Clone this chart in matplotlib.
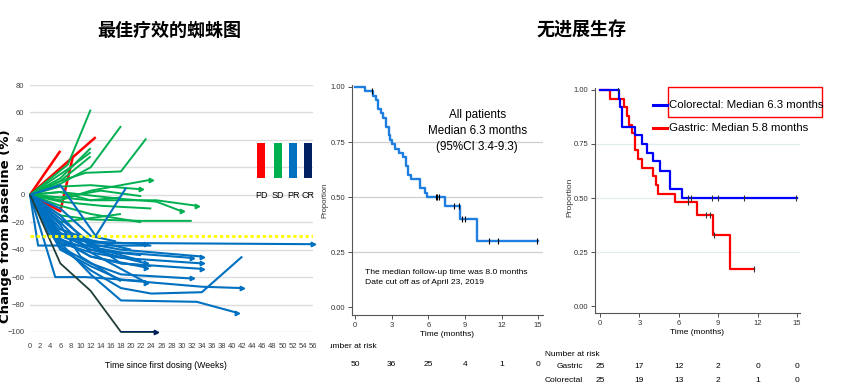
import numpy as np
import matplotlib.pyplot as plt
from matplotlib.patches import Rectangle
from matplotlib.lines import Line2D
from matplotlib import transforms

plt.rcParams['font.family'] = ['Liberation Sans Narrow', 'Liberation Sans', 'DejaVu Sans']
cjk = ['Noto Sans CJK SC', 'DejaVu Sans']

# ---- spider plot data (weeks, % change from baseline) ----
pd_weeks = [[0, 6], [0, 13], [0, 6], [0, 6, 8.5]]
pd_vals = [[0, 32], [0, 42], [0, 7], [0, -12, 28]]
pd_arrow = [False, False, False, False]

sd_weeks = [[0, 7.5, 12], [0, 6, 12, 18], [0, 6, 11, 18, 23], [0, 6, 12], [0, 6, 12],
            [0, 8, 12], [0, 6, 12, 24], [0, 6, 12, 22], [0, 6, 14, 22],
            [0, 6, 12, 25, 33], [0, 6, 18, 25, 30], [0, 6, 12, 22, 32],
            [0, 6, 14, 24], [0, 6, 12, 18], [0, 6, 12, 22], [0, 6, 12, 18]]
sd_vals = [[0, 22, 62], [0, 8, 20, 50], [0, 10, 16, 17, 41], [0, 12, 34], [0, 10, 28],
           [0, 20, 31], [0, -4, 3, 11], [0, 6, 7, 4], [0, -2, 3, -1],
           [0, -2, -4, -4, -8], [0, 2, -3, -5, -12], [0, -15, -18, -19, -19],
           [0, -5, -8, -10], [0, -20, -17, -14], [0, -8, -14, -20], [0, 2, -4, -2]]
sd_arrow = [False, False, False, False, False, False, True, True, False,
            True, True, False, False, False, False, False]

pr_weeks = [[0, 6, 12, 56], [0, 6, 12, 23], [0, 1.6, 24], [0, 5, 11, 23],
            [0, 6, 12, 18, 34], [0, 6, 12, 18, 32], [0, 6, 12, 18, 34],
            [0, 6, 12, 18, 34], [0, 6, 12, 23], [0, 6, 12, 23],
            [0, 6, 12, 18, 32], [0, 6, 12, 18, 34, 42], [0, 6, 12, 18, 24, 34, 42],
            [0, 6, 12, 18, 33, 41], [0, 6, 13, 19], [0, 6, 12, 23],
            [0, 6, 12, 22], [0, 6, 10, 18], [0, 12, 18, 24], [0, 6, 12, 17],
            [0, 4, 12, 22], [0, 6, 12, 20]]
pr_vals = [[0, -30, -35, -36], [0, -28, -34, -36], [0, -37, -37], [0, -60, -60, -63],
           [0, -25, -36, -40, -45], [0, -30, -38, -42, -46], [0, -35, -42, -46, -50],
           [0, -32, -45, -50, -54], [0, -33, -45, -53], [0, -28, -40, -50],
           [0, -38, -50, -58, -61], [0, -40, -52, -62, -67, -68], [0, -38, -55, -68, -72, -71, -45],
           [0, -35, -58, -77, -78, -86], [0, 7, -30, 5], [0, -20, -42, -64],
           [0, -15, -38, -48], [0, -22, -45, -63], [0, -35, -50, -52], [0, -10, -30, -34],
           [0, -30, -40, -44], [0, -25, -33, -40]]
pr_arrow = [True, True, False, False, True, True, True, True, True, True,
            True, True, False, True, False, True, False, False, False, False,
            False, False]

cr_weeks = [[0, 6, 12, 18, 25]]
cr_vals = [[0, -50, -70, -100, -100]]
cr_arrow = [True]

resp_labels = ['PD', 'SD', 'PR', 'CR']
resp_colors = ['#ff0000', '#00b050', '#0070c0', '#002060']

# ---- KM all patients ----
km_t = [0, 0.8, 1.5, 1.7, 1.9, 2.1, 2.3, 2.5, 2.75, 2.85, 3.0, 3.3, 3.6, 3.9,
        4.15, 4.3, 4.55, 5.35, 5.7, 5.9, 7.4, 8.6, 10.0]
km_s = [1.0, 0.98, 0.96, 0.94, 0.90, 0.88, 0.86, 0.82, 0.78, 0.76, 0.74, 0.72, 0.70, 0.68,
        0.64, 0.60, 0.58, 0.54, 0.52, 0.50, 0.46, 0.40, 0.30]
km_end = 15
km_cens = [1.35, 6.6, 6.75, 6.9, 8.1, 8.5, 8.8, 9.0, 11.0, 11.7, 14.9]
risk_all = [50, 36, 25, 4, 1, 0]

# ---- KM by tumour type ----
col_t = [0, 1.45, 1.55, 1.65, 2.7, 3.2, 3.55, 4.05, 4.6, 5.35, 6.25]
col_s = [1.0, 0.96, 0.92, 0.83, 0.79, 0.75, 0.71, 0.67, 0.625, 0.54, 0.50]
col_end = 15
col_cens = [1.4, 6.7, 6.9, 8.5, 9.0, 11.0, 14.9]
gas_t = [0, 0.76, 1.83, 2.03, 2.2, 2.4, 2.7, 2.92, 3.23, 4.07, 4.25, 4.4, 5.72, 7.37, 8.64, 9.92]
gas_s = [1.0, 0.96, 0.92, 0.88, 0.84, 0.80, 0.72, 0.68, 0.64, 0.60, 0.56, 0.52, 0.48, 0.42, 0.33, 0.17]
gas_end = 11.7
gas_cens = [6.7, 8.1, 8.4, 8.7, 11.7]
risk_gas = [25, 17, 12, 2, 0, 0]
risk_col = [25, 19, 13, 2, 1, 0]
risk_times = [0, 3, 6, 9, 12, 15]

W, H = 841, 387
fig = plt.figure(figsize=(W / 100, H / 100), dpi=100)


def fx(px):
    return px / W


def fy(py):
    return 1 - py / H


def box(l, t, r, b):
    return [fx(l), fy(b), (r - l) / W, (b - t) / H]


def surv_at(ts, ss, t):
    i = np.searchsorted(ts, t, side='right') - 1
    return ss[i]


# ================= spider plot =================
ax1 = fig.add_axes(box(30, 85, 313, 332))
ax1.set_xlim(0, 56)
ax1.set_ylim(-100, 80)
for s in ax1.spines.values():
    s.set_visible(False)
ax1.set_yticks(range(-100, 81, 20))
ax1.set_xticks(range(0, 57, 2))
ax1.tick_params(length=0, labelsize=5.5, colors='#404040')
ax1.tick_params(axis='y', pad=4)
ax1.tick_params(axis='x', pad=8)
for v in range(-80, 81, 20):
    ax1.axhline(v, color='#dcdcdc', lw=1.0, zorder=0)
ax1.axhline(-100, color='#bdd7ee', lw=1.0, zorder=0)

groups = [(pd_weeks, pd_vals, pd_arrow), (sd_weeks, sd_vals, sd_arrow),
          (pr_weeks, pr_vals, pr_arrow), (cr_weeks, cr_vals, cr_arrow)]
lw_list = [1.8, 1.4, 1.5, 1.3]
for (wk, vl, ar), c, lw in zip(groups, resp_colors, lw_list):
    for w, v, a in zip(wk, vl, ar):
        cc = c if c != '#002060' else '#1f3f3a'
        ax1.plot(w, v, color=cc, lw=lw, solid_capstyle='butt', clip_on=False)
        if c == '#002060':
            ax1.plot(w[-2:], v[-2:], color=c, lw=lw)
            cc = c
        if a:
            ax1.plot(w[-1], v[-1], marker='>', ms=3.2, color=cc, clip_on=False)

ax1.axhline(-30, color='#ffff00', lw=2.0, ls=(0, (1.2, 1.0)), zorder=5)

# response legend
leg_x = [261, 278, 293, 308]
for xc, lab, c in zip(leg_x, resp_labels, resp_colors):
    fig.add_artist(Rectangle((fx(xc - 4), fy(178)), 8 / W, 35 / H,
                             transform=fig.transFigure, color=c, lw=0))
    fig.text(fx(xc), fy(196), lab, ha='center', va='center', fontsize=6.5, color='black')

fig.text(fx(6), fy(226), 'Change from baseline (%)', rotation=90, ha='center', va='center',
         fontsize=9.5, fontweight='bold', family='DejaVu Sans')
fig.text(fx(166), fy(366), 'Time since first dosing (Weeks)', ha='center', va='center',
         fontsize=6.3)

# ================= KM all patients =================
ax2 = fig.add_axes(box(352, 85, 543, 315))
ax2.set_xlim(-0.25, 15.4)
ax2.set_ylim(-0.036, 1.009)
ax2.step(km_t + [km_end], km_s + [km_s[-1]], where='post', color='#1f7fe0', lw=1.7)
ax2.plot(km_cens, [surv_at(km_t, km_s, t) for t in km_cens], '|', ms=4, mew=0.8, color='black')
ax2.text(10.0, 0.80, 'All patients\nMedian 6.3 months\n(95%CI 3.4-9.3)', ha='center', va='center',
         fontsize=8.4, linespacing=1.45)
ax2.text(0.8, 0.136, 'The median follow-up time was 8.0 months\nDate cut off as of April 23, 2019',
         ha='left', va='center', fontsize=6.1, linespacing=1.6)
ax2.set_xlabel('Time (months)', fontsize=6, labelpad=1.5)

# ================= KM by tumour type =================
ax3 = fig.add_axes(box(595, 88, 800, 313))
ax3.set_xlim(-0.38, 15.23)
ax3.set_ylim(-0.032, 1.009)
ax3.step(gas_t + [gas_end], gas_s + [gas_s[-1]], where='post', color='#ff0000', lw=1.6)
ax3.step(col_t + [col_end], col_s + [col_s[-1]], where='post', color='#0000ff', lw=1.6)
ax3.plot(gas_cens, [surv_at(gas_t, gas_s, t) for t in gas_cens], '|', ms=4, mew=0.8, color='#333333')
ax3.plot(col_cens, [surv_at(col_t, col_s, t) for t in col_cens], '|', ms=4, mew=0.8, color='#333333')
ax3.set_xlabel('Time (months)', fontsize=6, labelpad=1.5)

for ax, gc in [(ax2, '#cfcfcf'), (ax3, '#e3ecee')]:
    for v in [0.25, 0.5, 0.75]:
        ax.axhline(v, color=gc, lw=0.9, zorder=0)
    ax.spines['top'].set_visible(False)
    ax.spines['right'].set_visible(False)
    for side in ['left', 'bottom']:
        ax.spines[side].set_color('#555555')
        ax.spines[side].set_linewidth(0.8)
    ax.set_xticks(risk_times)
    ax.set_yticks([0, 0.25, 0.5, 0.75, 1.0])
    ax.set_yticklabels(['0.00', '0.25', '0.50', '0.75', '1.00'])
    ax.tick_params(labelsize=5.5, length=3, width=0.6, colors='#333333', pad=2)

fig.text(fx(325), fy(200), 'Proportion', rotation=90, ha='center', va='center', fontsize=5.5, color='#333333')
fig.text(fx(570), fy(197), 'Proportion', rotation=90, ha='center', va='center', fontsize=6, color='#333333')

# legend of tumour-type KM
for yy, c, lab in [(105, '#0000ff', 'Colorectal: Median 6.3 months'),
                   (128, '#ff0000', 'Gastric: Median 5.8 months')]:
    fig.add_artist(Line2D([fx(653), fx(667)], [fy(yy), fy(yy)], transform=fig.transFigure,
                          color=c, lw=2.2))
    fig.text(fx(669), fy(yy), lab, ha='left', va='center', fontsize=8.2)
fig.add_artist(Rectangle((fx(668), fy(117)), 154 / W, 30 / H, transform=fig.transFigure,
                         fill=False, edgecolor='#ff0000', lw=1.0))

# number at risk tables
t2 = transforms.blended_transform_factory(ax2.transData, fig.transFigure)
t3 = transforms.blended_transform_factory(ax3.transData, fig.transFigure)
clip = Rectangle((fx(330), 0), 1, 1, transform=fig.transFigure, visible=False)
fig.add_artist(clip)
nr = fig.text(fx(377), fy(347), 'Number at risk', ha='right', va='center', fontsize=6)
nr.set_clip_path(clip)
for t, n in zip(risk_times, risk_all):
    fig.text(t, fy(364), str(n), transform=t2, ha='center', va='center', fontsize=6)
fig.text(fx(545), fy(354), 'Number at risk', ha='left', va='center', fontsize=6)
fig.text(fx(583), fy(367), 'Gastric', ha='right', va='center', fontsize=6)
fig.text(fx(583), fy(381), 'Colorectal', ha='right', va='center', fontsize=6)
for t, g, c in zip(risk_times, risk_gas, risk_col):
    fig.text(t, fy(367), str(g), transform=t3, ha='center', va='center', fontsize=6)
    fig.text(t, fy(381), str(c), transform=t3, ha='center', va='center', fontsize=6)

# titles
fig.text(fx(169), fy(30), '最佳疗效的蜘蛛图', ha='center', va='center', fontsize=13,
         fontweight='bold', family=cjk)
fig.text(fx(581), fy(30), '无进展生存', ha='center', va='center', fontsize=13,
         fontweight='bold', family=cjk)

fig.savefig('out.png', dpi=100)
